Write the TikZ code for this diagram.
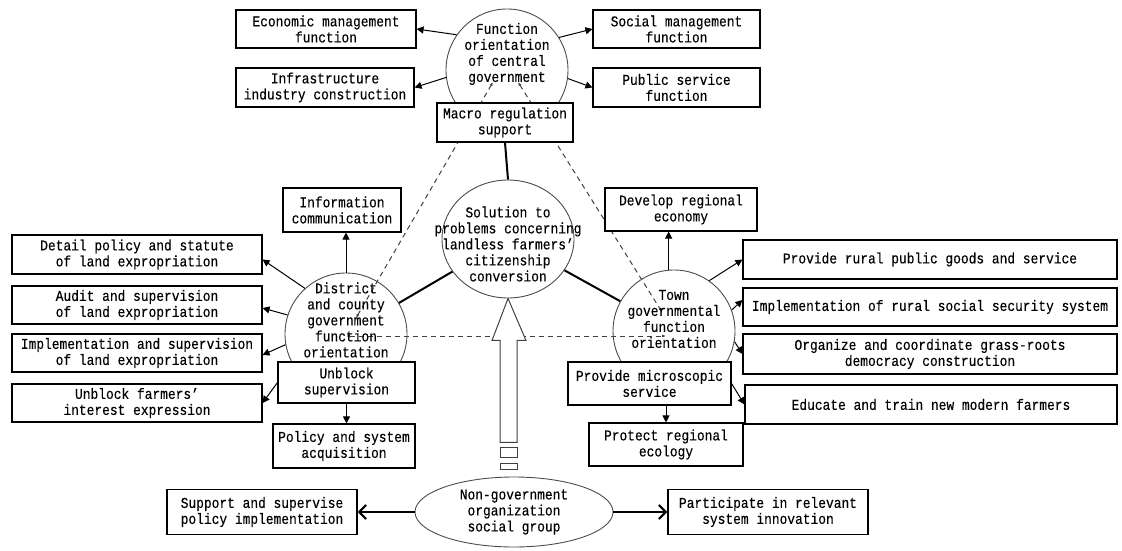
\documentclass[tikz,border=0pt]{standalone}
\usepackage{fontspec}
\setmonofont{Liberation Mono}[FakeStretch=0.86, FakeBold=0.2]
\usetikzlibrary{shapes.geometric,arrows.meta,backgrounds,calc}
\begin{document}
\begin{tikzpicture}[x=1pt, y=-1pt,
  every node/.style = {font=\ttfamily\fontsize{15}{16}\selectfont},
  box/.style = {draw, fill=white, line width=1.1pt, align=center, inner sep=0pt},
  circ/.style = {draw=black!70, circle, line width=0.9pt, minimum size=122pt, inner sep=0pt},
  oval/.style = {draw=black!70, ellipse, line width=0.9pt, inner sep=0pt},
  lbl/.style = {align=center, inner sep=0pt},
  arr/.style = {-{Triangle[length=7pt,width=7pt]}, line width=1pt},
  link/.style = {line width=2pt},
  dashlink/.style = {dash pattern=on 5pt off 4pt, line width=1pt, black!75, {Latex[length=4pt,width=3pt]}-{Latex[length=4pt,width=3pt]}},
  big/.style = {-{Straight Barb[length=7pt,width=14pt]}, line width=2.2pt}]
\useasboundingbox (0,0) rectangle (1122,551);

\node[circ, label={[lbl, yshift=16pt]center:Function\\orientation\\of central\\government}] (topc) at (507,70) {};
\node[circ, label={[lbl, yshift=14pt]center:District\\and county\\government\\function\\orientation}] (distc) at (346,334) {};
\node[circ, label={[lbl, yshift=12pt]center:Town\\governmental\\function\\orientation}] (townc) at (674,331) {};
\node[oval, minimum width=132pt, minimum height=118pt, label={[lbl, yshift=-5pt]center:Solution to\\problems concerning\\landless farmers’\\citizenship\\conversion}] (solc) at (508,239) {};
\node[oval, minimum width=198pt, minimum height=70pt, label={[lbl]center:Non-government\\organization\\social group}] (ngo) at (514,512) {};

\node[box, minimum width=180pt, minimum height=38pt] (econ) at (326,29) {Economic management\\function};
\node[box, minimum width=178pt, minimum height=39pt] (infra) at (325,87.5) {Infrastructure\\industry construction};
\node[box, minimum width=167pt, minimum height=38pt] (social) at (676.5,29) {Social management\\function};
\node[box, minimum width=167pt, minimum height=39pt] (public) at (676.5,87.5) {Public service\\function};
\node[box, minimum width=136pt, minimum height=39pt] (macro) at (505,122.5) {Macro regulation\\support};

\node[box, minimum width=118pt, minimum height=44pt] (info) at (342,210) {Information\\communication};
\node[box, minimum width=250pt, minimum height=39pt] (detail) at (137,254.5) {Detail policy and statute\\of land expropriation};
\node[box, minimum width=250pt, minimum height=38pt] (audit) at (137,305) {Audit and supervision\\of land expropriation};
\node[box, minimum width=250pt, minimum height=38pt] (impl) at (137,353) {Implementation and supervision\\of land expropriation};
\node[box, minimum width=250pt, minimum height=38pt] (farmers) at (137,403) {Unblock farmers’\\interest expression};
\node[box, minimum width=137pt, minimum height=41pt] (unblock) at (346.5,382.5) {Unblock\\supervision};
\node[box, minimum width=142pt, minimum height=44pt] (policy) at (344,446) {Policy and system\\acquisition};

\node[box, minimum width=152pt, minimum height=43pt] (develop) at (681,209.5) {Develop regional\\economy};
\node[box, minimum width=374pt, minimum height=39pt] (goods) at (930,259.5) {Provide rural public goods and service};
\node[box, minimum width=374pt, minimum height=38pt] (security) at (930,307) {Implementation of rural social security system};
\node[box, minimum width=374pt, minimum height=40pt] (organize) at (930,354) {Organize and coordinate grass-roots\\democracy construction};
\node[box, minimum width=372pt, minimum height=39pt] (educate) at (931,404.5) {Educate and train new modern farmers};
\node[box, minimum width=163pt, minimum height=43pt] (micro) at (649.5,383.5) {Provide microscopic\\service};
\node[box, minimum width=154pt, minimum height=43pt] (ecology) at (666,444.5) {Protect regional\\ecology};

\node[box, minimum width=190pt, minimum height=45pt] (support) at (262,512) {Support and supervise\\policy implementation};
\node[box, minimum width=200pt, minimum height=45pt] (participate) at (768,512) {Participate in relevant\\system innovation};

\begin{scope}[on background layer]
\draw[dashlink] ([shift={(-14,12)}]topc.center) -- ([shift={(10,-16)}]distc.center);
\draw[dashlink] ([shift={(11,12)}]topc.center) -- ([shift={(-12,-19)}]townc.center);
\draw[dashlink] ([shift={(0,2)}]distc.center) -- ([shift={(-8,5)}]townc.center);
\end{scope}

\draw[arr] (topc.145) -- (econ.east);
\draw[arr] (topc.187) -- (infra.east);
\draw[arr] (topc.32) -- (social.west);
\draw[arr] (topc.-8) -- (public.west);
\draw[link] (macro.south) -- (solc.north);
\draw[link] (solc) -- (distc);
\draw[link] (solc) -- (townc);

\draw[arr] (distc.north) -- (distc.north |- info.south);
\draw[arr] (distc.132) -- ([yshift=-5pt]detail.east);
\draw[arr] (distc.162) -- ([yshift=-3pt]audit.east);
\draw[arr] (distc.190) -- ([yshift=-2pt]impl.east);
\draw[arr] (unblock.west) -- (farmers.east);
\draw[arr] (unblock.south) -- (unblock.south |- policy.north);

\draw[arr] (townc.95) -- (townc.95 |- develop.south);
\draw[arr] (townc.55) -- (goods.west);
\draw[arr] (townc.20) -- ([yshift=7pt]security.west);
\draw[arr] (townc.-10) -- (organize.west);
\draw[arr] (micro.east) -- (educate.west);
\draw[arr] (ecology.north |- micro.south) -- (ecology.north);

\draw[fill=white, draw=black!75, line width=1pt] (solc.south) -- ++(18,42) -- ++(-9,0) -- ++(0,102) -- ++(-17,0) -- ++(0,-102) -- ++(-8,0) -- cycle;
\draw[draw=black!75, line width=1pt] ([shift={(-8,149)}]solc.south) rectangle ++(17,10);
\draw[draw=black!75, line width=1pt] ([shift={(-8,165)}]solc.south) rectangle ++(17,6);

\draw[big] (ngo.west) -- (support.east);
\draw[big] (ngo.east) -- (participate.west);
\end{tikzpicture}
\end{document}
